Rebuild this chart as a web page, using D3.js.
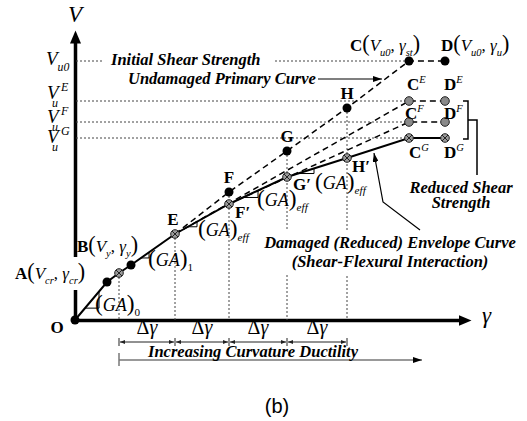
<!DOCTYPE html>
<html>
<head>
<meta charset="utf-8">
<script src="https://cdn.jsdelivr.net/npm/d3@7"></script>
<style>
  body { margin: 0; background: #fff; }
  text { font-family: "Liberation Serif", "Times New Roman", serif; fill: #000; }
</style>
</head>
<body>
<div id="chart"></div>
<script>
// chart units: x = shear strain (gamma), y = shear force (V)
var svgWidth = 527;
var svgHeight = 421;

// points on the curves [gamma, V]
var ptO = [0, 0];
var ptA = [3.2, 3.8];
var ptCr = [4.4, 4.7];
var ptB = [5.6, 5.5];
var ptE = [10.0, 8.6];
var ptF = [15.4, 12.8];
var ptF2 = [15.4, 11.6];
var ptG = [21.2, 16.9];
var ptG2 = [21.2, 14.3];
var ptH = [27.2, 21.2];
var ptH2 = [27.2, 16.2];
var ptC = [33.4, 25.9];
var ptD = [37.0, 25.9];
var ptCE = [33.4, 21.9];
var ptDE = [37.0, 21.9];
var ptCF = [33.4, 19.8];
var ptDF = [37.0, 19.8];
var ptCG = [33.4, 18.2];
var ptDG = [37.0, 18.2];

// shear strength levels
var levelNames = ["0", "E", "F", "G"];
var levelValues = [25.9, 21.9, 19.8, 18.2];

// curves
var primarySolid = [ptO, ptA, ptCr, ptB, ptE];
var primaryDashed = [ptE, ptF, ptG, ptH, ptC, ptD];
var damagedSolid = [ptE, ptF2, ptG2, ptH2, ptCG, ptDG];
var dashedE = [ptE, ptCE, ptDE];
var dashedF = [ptF2, ptCF, ptDF];

// strain increments
var deltaTicks = [4.4, 10.0, 15.4, 21.2, 27.2];
var verticalGuides = [ptCr, ptE, ptF, ptG, ptH];

var blackDots = [ptO, ptA, ptB, ptF, ptG, ptH, ptC, ptD];
var grayDots = [ptCE, ptDE, ptCF, ptDF];
var crossDots = [ptCr, ptE, ptF2, ptG2, ptH2, ptCG, ptDG];

var x = d3.scaleLinear().domain([0, 40]).range([75, 475]);
var y = d3.scaleLinear().domain([0, 29]).range([320, 30]);

var svg = d3.select("#chart")
  .append("svg")
  .attr("width", svgWidth)
  .attr("height", svgHeight);

var defs = svg.append("defs");
defs.append("marker").attr("id", "axArrow")
  .attr("markerUnits", "userSpaceOnUse")
  .attr("markerWidth", 14).attr("markerHeight", 12)
  .attr("refX", 3).attr("refY", 5.5).attr("orient", "auto")
  .append("path").attr("d", "M0,0 L13,5.5 L0,11 z").attr("fill", "#000");
defs.append("marker").attr("id", "smallArrow")
  .attr("markerUnits", "userSpaceOnUse")
  .attr("markerWidth", 10).attr("markerHeight", 6)
  .attr("refX", 9).attr("refY", 3).attr("orient", "auto")
  .append("path").attr("d", "M0,0 L9,3 L0,6 z").attr("fill", "#000");
defs.append("marker").attr("id", "dimArrow")
  .attr("markerUnits", "userSpaceOnUse")
  .attr("markerWidth", 6).attr("markerHeight", 4)
  .attr("refX", 5).attr("refY", 2).attr("orient", "auto-start-reverse")
  .append("path").attr("d", "M0,0 L5,2 L0,4 z").attr("fill", "#222");

var line = d3.line().x(d => x(d[0])).y(d => y(d[1]));

// axes
var xAxisScale = d3.scaleLinear().domain([0, 38.6]).range([x(0), x(38.6)]);
var yAxisScale = d3.scaleLinear().domain([0, 28.0]).range([y(0), y(28.0)]);

svg.append("g")
  .attr("transform", `translate(0, ${y(0)})`)
  .call(d3.axisBottom(xAxisScale).tickValues([]).tickSizeOuter(0))
  .select(".domain")
  .attr("stroke-width", 3.5)
  .attr("marker-end", "url(#axArrow)");

svg.append("g")
  .attr("transform", `translate(${x(0)}, 0)`)
  .call(d3.axisLeft(yAxisScale).tickValues([]).tickSizeOuter(0))
  .select(".domain")
  .attr("stroke-width", 3.5)
  .attr("marker-end", "url(#axArrow)");

// dotted guides
var guides = svg.append("g")
  .attr("stroke", "#444").attr("stroke-width", 1)
  .attr("stroke-dasharray", "2,2").attr("fill", "none");

levelValues.forEach(function(v, i) {
  if (i == 0) {
    guides.append("path").attr("d", line([[0.1, v], [2.7, v]]));
    guides.append("path").attr("d", line([[20.0, v], [ptC[0], v]]));
  } else {
    guides.append("path").attr("d", line([[0.1, v], [ptC[0], v]]));
  }
});

verticalGuides.forEach(function(p) {
  guides.append("path").attr("d", line([[p[0], p[1]], [p[0], 0]]));
});

// white box behind A label and damaged text
svg.append("rect").attr("x", x(-6)).attr("y", y(6.3)).attr("width", x(2.1) - x(-6)).attr("height", y(3.0) - y(6.3)).attr("fill", "#fff");
svg.append("rect").attr("x", x(18.9)).attr("y", y(9.0)).attr("width", x(44) - x(18.9)).attr("height", y(4.6) - y(9.0)).attr("fill", "#fff");

// curves
svg.append("path").attr("d", line(primarySolid))
  .attr("fill", "none").attr("stroke", "#000").attr("stroke-width", 2);
svg.append("path").attr("d", line(damagedSolid))
  .attr("fill", "none").attr("stroke", "#000").attr("stroke-width", 2);
[primaryDashed, dashedE, dashedF].forEach(function(pts) {
  svg.append("path").attr("d", line(pts))
    .attr("fill", "none").attr("stroke", "#000").attr("stroke-width", 1.5)
    .attr("stroke-dasharray", "6,4");
});

// slope markers
var slopeMarks = [[1.0, 1.4], [6.6, 0.8], [11.3, 0.9], [16.8, 1.5], [22.3, 1.6]];
var slopeRates = [1.19, 0.7, 0.57, 0.45, 0.31];
slopeMarks.forEach(function(s, i) {
  var x0 = s[0], len = s[1], k = slopeRates[i];
  // y on curve at x0
  var seg = i < 2 ? primarySolid : damagedSolid;
  var yy = 0;
  for (var j = 0; j < seg.length - 1; j++) {
    if (x0 >= seg[j][0] && x0 <= seg[j + 1][0]) {
      yy = seg[j][1] + (x0 - seg[j][0]) * (seg[j + 1][1] - seg[j][1]) / (seg[j + 1][0] - seg[j][0]);
    }
  }
  svg.append("path")
    .attr("d", line([[x0, yy], [x0 + len, yy], [x0 + len, yy + len * k]]))
    .attr("fill", "none").attr("stroke", "#000").attr("stroke-width", 1);
});

// points
svg.append("g").selectAll("circle")
  .data(blackDots).enter().append("circle")
  .attr("cx", d => x(d[0])).attr("cy", d => y(d[1])).attr("r", 4.5)
  .attr("fill", "#000");
svg.append("g").selectAll("circle")
  .data(grayDots).enter().append("circle")
  .attr("cx", d => x(d[0])).attr("cy", d => y(d[1])).attr("r", 4.3)
  .attr("fill", "#8a8a8a").attr("stroke", "#222").attr("stroke-width", 1);
var cross = svg.append("g").selectAll("g")
  .data(crossDots).enter().append("g")
  .attr("transform", d => `translate(${x(d[0])}, ${y(d[1])})`);
cross.append("circle").attr("r", 4.3).attr("fill", "#9a9a9a").attr("stroke", "#222").attr("stroke-width", 1);
cross.append("path").attr("d", "M-3,-3 L3,3 M-3,3 L3,-3").attr("stroke", "#222").attr("stroke-width", 1);

// bracket
var bracket = [[38.8, 21.9], [39.3, 21.9], [39.3, 18.1], [38.8, 18.1]];
var bracketStem = [[39.3, 20.0], [40.2, 20.0], [40.2, 14.5]];
svg.append("path").attr("d", line(bracket)).attr("fill", "none").attr("stroke", "#000").attr("stroke-width", 1.5);
svg.append("path").attr("d", line(bracketStem)).attr("fill", "none").attr("stroke", "#000").attr("stroke-width", 1.5);

// annotation arrows
var undamagedArrow = [[24.3, 24.1], [30.7, 24.1]];
var damagedArrow = [[34.5, 9.0], [30.8, 11.8], [29.9, 16.7]];
[undamagedArrow, damagedArrow].forEach(function(pts) {
  svg.append("path").attr("d", line(pts))
    .attr("fill", "none").attr("stroke", "#000").attr("stroke-width", 1.2)
    .attr("marker-end", "url(#smallArrow)");
});

// strain increment dimension line
var dimY = -2.2;
for (var i = 0; i < deltaTicks.length - 1; i++) {
  svg.append("path").attr("d", line([[deltaTicks[i] + 0.1, dimY], [deltaTicks[i + 1] - 0.1, dimY]]))
    .attr("stroke", "#222").attr("stroke-width", 1)
    .attr("marker-start", "url(#dimArrow)").attr("marker-end", "url(#dimArrow)");
  svg.append("text")
    .attr("x", x((deltaTicks[i] + deltaTicks[i + 1]) / 2)).attr("y", y(-1.4))
    .attr("text-anchor", "middle").attr("font-size", 20)
    .html('Δ<tspan font-style="italic">γ</tspan>');
}
deltaTicks.forEach(function(t) {
  svg.append("path").attr("d", line([[t, dimY + 0.4], [t, dimY - 0.4]]))
    .attr("stroke", "#222").attr("stroke-width", 1);
});

// ductility arrow
svg.append("path").attr("d", line([[4.4, -4.0], [34.7, -4.0]]))
  .attr("stroke", "#777").attr("stroke-width", 1.5).attr("marker-end", "url(#smallArrow)");
svg.append("path").attr("d", line([[4.4, -3.3], [4.4, -4.6]]))
  .attr("stroke", "#777").attr("stroke-width", 1.5);

// rich text helper
function rich(px, py, parts, size, anchor) {
  var t = svg.append("text").attr("x", px).attr("y", py)
    .attr("font-size", size).attr("text-anchor", anchor || "start");
  var shift = 0;
  parts.forEach(function(p) {
    var s = p[0], k = p[1];
    var ts = t.append("tspan").text(s);
    var target = 0, fs = size;
    if (k.indexOf("b") >= 0) ts.attr("font-weight", "bold");
    if (k.indexOf("i") >= 0) ts.attr("font-style", "italic");
    if (k.indexOf("_") >= 0) { target = size * 0.3; fs = size * 0.62; }
    if (k.indexOf("^") >= 0) { target = -size * 0.4; fs = size * 0.62; }
    if (k.indexOf("P") >= 0) fs = size * 1.3;
    ts.attr("font-size", fs).attr("dy", target - shift);
    shift = target;
  });
  return t;
}

// axis titles
rich(x(0), y(29.8), [["V", "i"]], 23, "middle");
rich(x(40.7), y(-0.3), [["γ", "i"]], 23, "start");
rich(x(-1.8), y(-1.3), [["O", "b"]], 17, "middle");

// strength level labels
rich(x(-2.9), y(25.5), [["V", "i"], ["u0", "i_"]], 19);
levelNames.forEach(function(n, i) {
  if (i == 0) return;
  var vy = levelValues[i];
  var off = [0, 0.2, -0.1, -0.5][i];
  rich(x(-2.8), y(vy + off), [["V", "i"]], 19);
  rich(x(-1.4), y(vy + off + 0.8), [[n, "i"]], 12);
  rich(x(-2.3), y(vy + off - 0.75), [["u", "i"]], 12);
});

// descriptive text
rich(x(3.6), y(25.5), [["Initial Shear Strength", "bi"]], 16.5);
rich(x(5.3), y(23.6), [["Undamaged Primary Curve", "bi"]], 16.5);
rich(x(31.5), y(7.2), [["Damaged (Reduced) Envelope Curve", "bi"]], 16.5, "middle");
rich(x(31.5), y(5.3), [["(Shear-Flexural Interaction)", "bi"]], 16.5, "middle");
rich(x(38.6), y(12.7), [["Reduced Shear", "bi"]], 16.5, "middle");
rich(x(38.6), y(11.2), [["Strength", "bi"]], 16.5, "middle");
rich(x(17.8), y(-3.7), [["Increasing Curvature Ductility", "bi"]], 16.5, "middle");

// point labels
rich(x(27.5), y(26.9), [["C", "b"], ["(", "P"], ["V", "i"], ["u0", "i_"], [", ", ""], ["γ", "i"], ["st", "i_"], [")", "P"]], 17);
rich(x(36.6), y(26.9), [["D", "b"], ["(", "P"], ["V", "i"], ["u0", "i_"], [", ", ""], ["γ", "i"], ["u", "i_"], [")", "P"]], 17);
rich(x(33.2), y(23.0), [["C", "b"], ["E", "i^"]], 17);
rich(x(36.9), y(23.0), [["D", "b"], ["E", "i^"]], 17);
rich(x(33.0), y(20.1), [["C", "b"], ["F", "i^"]], 17);
rich(x(36.9), y(20.1), [["D", "b"], ["F", "i^"]], 17);
rich(x(33.4), y(16.2), [["C", "b"], ["G", "i^"]], 17);
rich(x(36.9), y(16.2), [["D", "b"], ["G", "i^"]], 17);

rich(x(ptH[0]), y(22.1), [["H", "b"]], 17, "middle");
rich(x(ptG[0]), y(17.8), [["G", "b"]], 17, "middle");
rich(x(ptF[0]), y(13.7), [["F", "b"]], 17, "middle");
rich(x(9.8), y(9.5), [["E", "b"]], 17, "middle");
rich(x(27.7), y(14.8), [["H", "b"], ["′", "b"]], 17);
rich(x(21.8), y(13.0), [["G", "b"], ["′", "b"]], 17);
rich(x(16.0), y(10.2), [["F", "b"], ["′", "b"]], 17);

rich(x(12.3), y(8.4), [["(", "P"], ["GA", "i"], [")", "P"], ["eff", "i_"]], 18);
rich(x(18.2), y(11.4), [["(", "P"], ["GA", "i"], [")", "P"], ["eff", "i_"]], 18);
rich(x(24.0), y(13.1), [["(", "P"], ["GA", "i"], [")", "P"], ["eff", "i_"]], 18);
rich(x(7.3), y(5.4), [["(", "P"], ["GA", "i"], [")", "P"], ["1", "_"]], 18);
rich(x(2.0), y(0.9), [["(", "P"], ["GA", "i"], [")", "P"], ["0", "_"]], 18);

rich(x(0.2), y(6.8), [["B", "b"], ["(", "P"], ["V", "i"], ["y", "i_"], [", ", ""], ["γ", "i"], ["y", "i_"], [")", "P"]], 17);
rich(x(-6.0), y(4.1), [["A", "b"], ["(", "P"], ["V", "i"], ["cr", "i_"], [", ", ""], ["γ", "i"], ["cr", "i_"], [")", "P"]], 17);

// caption
svg.append("text").attr("x", x(20.2)).attr("y", y(-9.3))
  .attr("text-anchor", "middle").attr("font-size", 20)
  .style("font-family", "'Liberation Sans', Arial, sans-serif")
  .text("(b)");
</script>
</body>
</html>
